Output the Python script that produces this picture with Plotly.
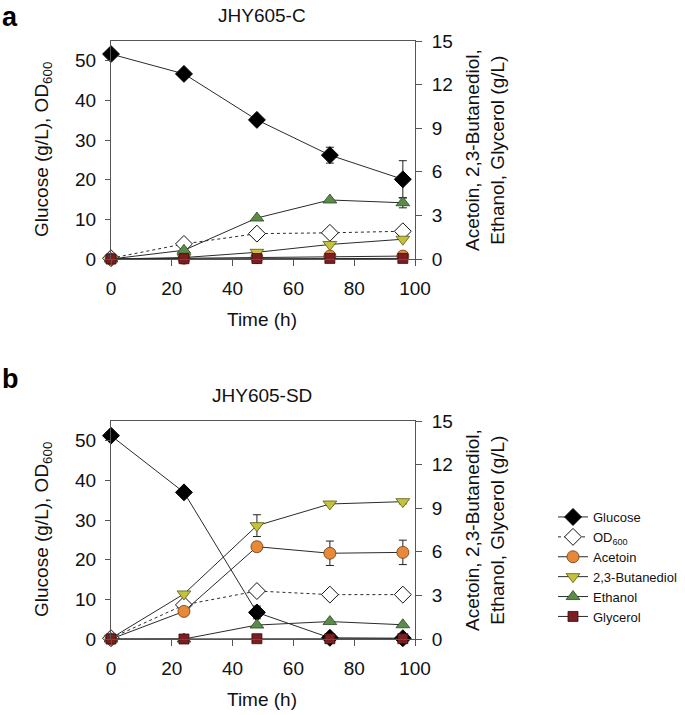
import plotly.graph_objects as go
from plotly.subplots import make_subplots

time_h = [0, 24, 48, 72, 96]

# Panel a: JHY605-C
a_glucose = [51.7, 46.7, 35.1, 26.2, 20.1]
a_glucose_err = [0, 0, 0, 2.0, 4.7]
a_od = [0.2, 3.8, 6.4, 6.6, 7.0]
a_acetoin = [0.0, 0.05, 0.1, 0.2, 0.2]
a_bdo = [0.0, 0.1, 0.46, 1.0, 1.36]
a_ethanol = [0.0, 0.6, 2.82, 4.06, 3.87]
a_ethanol_err = [0, 0, 0, 0, 0.35]
a_glycerol = [0.0, 0.02, 0.03, 0.04, 0.04]

# Panel b: JHY605-SD
b_glucose = [51.3, 37.0, 6.7, 0.3, 0.2]
b_glucose_err = [0, 0, 1.6, 0, 0]
b_od = [0.2, 8.6, 12.1, 11.2, 11.2]
b_acetoin = [0.0, 1.9, 6.35, 5.9, 5.96]
b_acetoin_err = [0, 0, 0.3, 0.84, 0.84]
b_bdo = [0.05, 3.1, 7.8, 9.29, 9.45]
b_bdo_err = [0, 0, 0.75, 0.1, 0.15]
b_ethanol = [0.0, 0.0, 0.96, 1.2, 0.98]
b_glycerol = [0.0, 0.0, 0.02, 0.02, 0.02]

panel_titles = ["JHY605-C", "JHY605-SD"]
panel_letters = ["a", "b"]

FONT = "Liberation Sans, Arial, sans-serif"
LINE = "#2a2a2a"
TXT = "#111111"
C_ACETOIN = "#E8893A"
C_BDO = "#C4C23C"
C_ETH = "#5B8A4A"
C_GLY = "#7A1E22"

fig = make_subplots(rows=2, cols=1, specs=[[{"secondary_y": True}], [{"secondary_y": True}]])


def err(vals):
    return dict(type="data", array=vals, visible=True, color="#222222", thickness=1, width=4)


def add_panel(row, glc, glc_err, od, ace, ace_err, bdo, bdo_err, eth, eth_err, gly, show):
    fig.add_trace(go.Scatter(x=time_h, y=od, name="OD<sub>600</sub>", mode="lines+markers",
                             line=dict(color=LINE, width=1, dash="dot"),
                             marker=dict(symbol="diamond", size=13, color="white", line=dict(color="#111111", width=1)),
                             showlegend=show, legendrank=2, cliponaxis=False),
                  row=row, col=1, secondary_y=False)
    fig.add_trace(go.Scatter(x=time_h, y=glc, name="Glucose", mode="lines+markers",
                             line=dict(color=LINE, width=1),
                             error_y=err(glc_err),
                             marker=dict(symbol="diamond", size=13, color="black", line=dict(color="black", width=1)),
                             showlegend=show, legendrank=1, cliponaxis=False),
                  row=row, col=1, secondary_y=False)
    fig.add_trace(go.Scatter(x=time_h, y=ace, name="Acetoin", mode="lines+markers",
                             line=dict(color=LINE, width=1),
                             error_y=err(ace_err) if ace_err else None,
                             marker=dict(symbol="circle", size=12, color=C_ACETOIN, line=dict(color="#6a3a10", width=0.8)),
                             showlegend=show, legendrank=3, cliponaxis=False),
                  row=row, col=1, secondary_y=True)
    fig.add_trace(go.Scatter(x=time_h, y=bdo, name="2,3-Butanediol", mode="lines+markers",
                             line=dict(color=LINE, width=1),
                             error_y=err(bdo_err) if bdo_err else None,
                             marker=dict(symbol="triangle-down", size=12, color=C_BDO, line=dict(color="#5a5a10", width=0.8)),
                             showlegend=show, legendrank=4, cliponaxis=False),
                  row=row, col=1, secondary_y=True)
    fig.add_trace(go.Scatter(x=time_h, y=eth, name="Ethanol", mode="lines+markers",
                             line=dict(color=LINE, width=1),
                             error_y=err(eth_err) if eth_err else None,
                             marker=dict(symbol="triangle-up", size=12, color=C_ETH, line=dict(color="#2a4a20", width=0.8)),
                             showlegend=show, legendrank=5, cliponaxis=False),
                  row=row, col=1, secondary_y=True)
    fig.add_trace(go.Scatter(x=time_h, y=gly, name="Glycerol", mode="lines+markers",
                             line=dict(color=LINE, width=1),
                             marker=dict(symbol="square", size=10, color=C_GLY, line=dict(color="#3a0a0a", width=0.8)),
                             showlegend=show, legendrank=6, cliponaxis=False),
                  row=row, col=1, secondary_y=True)


add_panel(1, a_glucose, a_glucose_err, a_od, a_acetoin, None, a_bdo, None, a_ethanol, a_ethanol_err, a_glycerol, False)
add_panel(2, b_glucose, b_glucose_err, b_od, b_acetoin, b_acetoin_err, b_bdo, b_bdo_err, b_ethanol, None, b_glycerol, True)

W, H = 685, 715
ML, MR, MT, MB = 111, W - 415, 41, H - 639
PW, PH = W - ML - MR, H - MT - MB
ydom_a = [1 - (259 - MT) / PH, 1]
ydom_b = [0, (639 - 421) / PH]


def px(x, y):
    """pixel (from top-left of the page) -> paper coordinates"""
    return (x - ML) / PW, (H - y - MB) / PH


base = dict(showline=True, linecolor="#555555", linewidth=1, ticks="outside",
            tickcolor="#555555", showgrid=False, zeroline=False, automargin=False,
            tickfont=dict(family=FONT, size=19, color=TXT))
xax = dict(base, ticklen=6, ticklabelstandoff=6)
yl = dict(base, ticklen=5, ticklabelstandoff=5)
yr = dict(base, ticklen=6, ticklabelstandoff=6)

fig.update_layout(
    xaxis=dict(xax, domain=[0, 1], range=[0, 100], dtick=20, mirror=True),
    xaxis2=dict(xax, domain=[0, 1], range=[0, 100], dtick=20, mirror=True),
    yaxis=dict(yl, domain=ydom_a, range=[0, 55], tickvals=[0, 10, 20, 30, 40, 50]),
    yaxis2=dict(yr, range=[0, 15], dtick=3),
    yaxis3=dict(yl, domain=ydom_b, range=[0, 55], tickvals=[0, 10, 20, 30, 40, 50]),
    yaxis4=dict(yr, range=[0, 15], dtick=3),
)

annotations = []


def ann(text, x, y, size=19, angle=0, xanchor="center", yanchor="middle", bold=False):
    xp, yp = px(x, y)
    annotations.append(dict(text=f"<b>{text}</b>" if bold else text, x=xp, y=yp, xref="paper", yref="paper",
                            xanchor=xanchor, yanchor=yanchor, textangle=angle, showarrow=False,
                            font=dict(family=FONT, size=size, color="black" if bold else TXT)))


for i, (top, bottom) in enumerate([(41, 259), (421, 639)]):
    mid = (top + bottom) / 2
    if i == 0:
        ann(panel_letters[i], 0, 0.5, size=27, xanchor="left", yanchor="top", bold=True)
    else:
        ann(panel_letters[i], 0, 379, size=27, xanchor="left", bold=True)
    ann(panel_titles[i], 262, 16 if i == 0 else 395)
    ann("Glucose (g/L), OD<sub>600</sub>", 43, mid, angle=-90)
    ann("Acetoin, 2,3-Butanediol,<br>Ethanol, Glycerol (g/L)", 485, mid, angle=-90)
    ann("Time (h)", 262, bottom + 60)

fig.update_layout(
    width=W, height=H,
    margin=dict(l=ML, r=MR, t=MT, b=MB, autoexpand=False),
    paper_bgcolor="white", plot_bgcolor="white",
    font=dict(family=FONT, color=TXT),
    legend=dict(x=553 / W, y=1 - 502 / H, xanchor="left", yanchor="top",
                xref="container", yref="container",
                font=dict(family=FONT, size=13, color=TXT),
                tracegroupgap=0, itemwidth=30, bgcolor="rgba(0,0,0,0)"),
    annotations=annotations,
)

fig.write_html("out.html", config={"displayModeBar": False},
               post_script="document.body.style.margin='0px';")
